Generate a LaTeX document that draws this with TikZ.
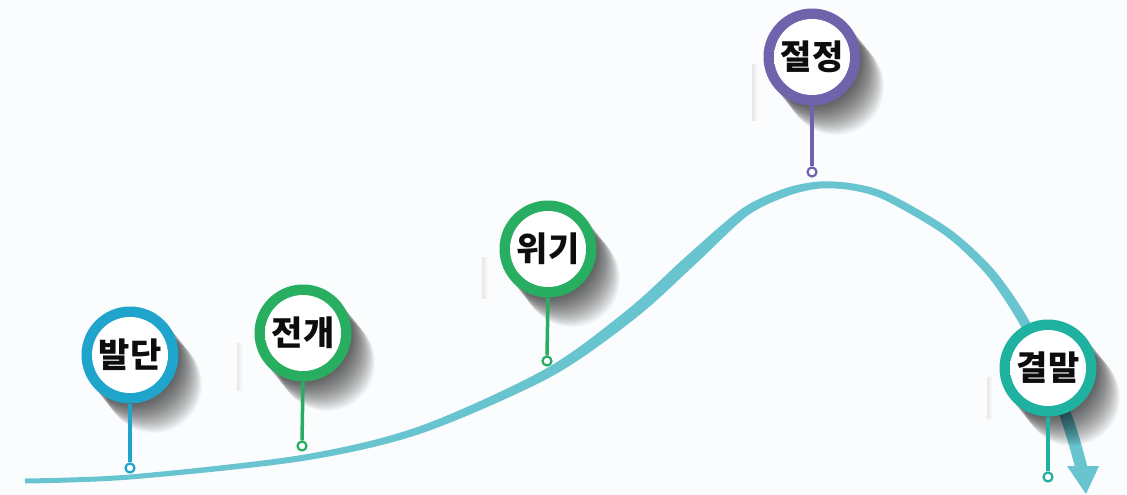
\documentclass[tikz,border=0pt]{standalone}
\usepackage{fontspec}
\newfontfamily\kr{Noto Sans CJK KR}
\definecolor{bg}{RGB}{250,252,254}
\definecolor{cBlue}{RGB}{31,164,204}
\definecolor{cGreen}{RGB}{40,174,96}
\definecolor{cPurple}{RGB}{111,99,172}
\definecolor{cTeal}{RGB}{31,178,160}
\definecolor{cCurve}{RGB}{104,196,207}
\pgfdeclareradialshading{discshade}{\pgfpoint{-8bp}{8bp}}{color(0bp)=(white); color(32bp)=(white); color(46bp)=(black!5); color(58bp)=(black!15); color(70bp)=(black!15)}
\tikzset{
  ringnode/.style={circle, minimum size=97pt, inner sep=0pt, fill=#1},
  discnode/.style={circle, minimum size=76pt, inner sep=0pt, shade, shading=discshade,
    font=\kr\bfseries\fontsize{34}{34}\selectfont, text=black!95},
  dotmark/.style={circle, minimum size=9pt, inner sep=0pt, draw=#1, line width=2.2pt, fill=white},
  stemline/.style={draw=#1, line width=3.5pt},
  strip/.style={left color=black!9, right color=bg}
}
\begin{document}
\begin{tikzpicture}[x=1pt,y=-1pt]
\useasboundingbox (0,0) rectangle (1127,495);
\fill[bg] (0,0) rectangle (1127,495);
% curve band
\fill[cCurve] plot[smooth] coordinates {(24.9,478.5) (129.8,474.5) (301.5,455.0) (418.8,426.5) (545.7,368.8) (628.6,308.7) (686.0,256.5) (742.4,208.3) (785.6,188.2) (819.7,181.5) (853.6,183.6) (888.6,193.6) (949.4,228.8) (993.4,269.1) (1027.3,317.5) (1055.0,372.8) (1075.7,426.1) (1087.8,468.4)}
 -- plot[smooth] coordinates {(1076.2,471.7) (1064.3,429.9) (1045.0,377.2) (1018.7,322.5) (986.6,274.9) (944.6,235.2) (885.4,200.4) (852.4,190.4) (820.3,188.5) (788.4,195.8) (747.6,215.7) (694.0,265.5) (635.4,318.3) (550.3,377.2) (421.2,433.5) (302.5,461.0) (130.2,479.5) (25.1,483.5)} -- cycle;
\fill[cCurve] (1067,466) -- (1099,466) -- (1086,494) -- cycle;
% shadows
\foreach \cx/\cy in {130/355, 303/333, 548/249, 812/57, 1048/368}{
  \foreach \i in {1,...,30}{
    \fill[black, opacity=0.026] (\cx+0.8*\i,\cy+\i) circle (48pt);
  }
}
% faint strips
\shade[strip] (237,343) rectangle (243,390);
\shade[strip] (482,257) rectangle (488,298);
\shade[strip] (752,65) rectangle (758,120);
\shade[strip] (987,377) rectangle (993,418);
% markers
\node[ringnode=cBlue] (r1) at (130,355) {};
\node[ringnode=cGreen] (r2) at (303,333) {};
\node[ringnode=cGreen] (r3) at (548,249) {};
\node[ringnode=cPurple] (r4) at (812,57) {};
\node[ringnode=cTeal] (r5) at (1048,368) {};
\node[dotmark=cBlue] (p1) at (130,468) {};
\node[dotmark=cGreen] (p2) at (302,446) {};
\node[dotmark=cGreen] (p3) at (547,361) {};
\node[dotmark=cPurple] (p4) at (812,172) {};
\node[dotmark=cTeal] (p5) at (1048,477) {};
\draw[stemline=cBlue] (r1.south) -- (p1.north);
\draw[stemline=cGreen] (r2.south) -- (p2.north);
\draw[stemline=cGreen] (r3.south) -- (p3.north);
\draw[stemline=cPurple] (r4.south) -- (p4.north);
\draw[stemline=cTeal] (r5.south) -- (p5.north);
\node[discnode] (t1) at (r1) {발단};
\node[discnode] (t2) at (r2) {전개};
\node[discnode] (t3) at (r3) {위기};
\node[discnode] (t4) at (r4) {절정};
\node[discnode] (t5) at (r5) {결말};
\end{tikzpicture}
\end{document}
